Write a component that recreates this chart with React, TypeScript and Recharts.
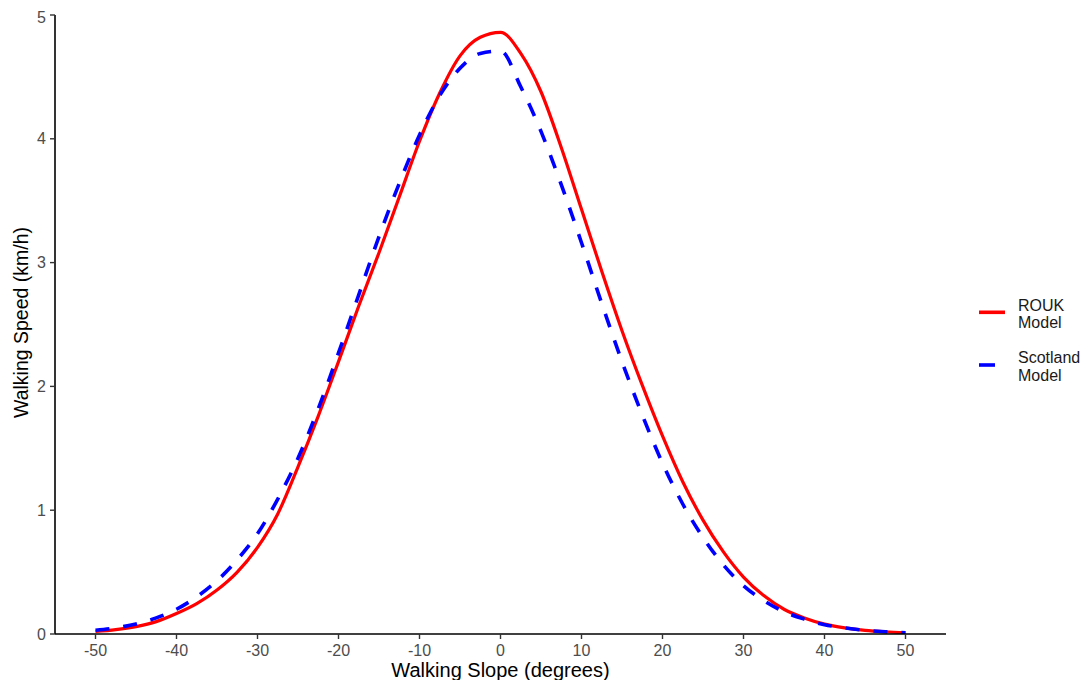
import React from 'react';
import { LineChart, Line, XAxis, YAxis } from 'recharts';

const slopes = [-50, -47.5, -45, -42.5, -40, -37.5, -35, -32.5, -30, -27.5, -25, -22.5, -20, -17.5, -15, -12.5, -10, -7.5, -5, -2.5, 0, 2.5, 5, 7.5, 10, 12.5, 15, 17.5, 20, 22.5, 25, 27.5, 30, 32.5, 35, 37.5, 40, 42.5, 45, 47.5, 50];

const roukSpeed = [0.02, 0.035, 0.06, 0.1, 0.165, 0.245, 0.355, 0.5, 0.7, 0.97, 1.35, 1.76, 2.2, 2.65, 3.08, 3.53, 3.98, 4.37, 4.67, 4.82, 4.86, 4.69, 4.38, 3.93, 3.43, 2.93, 2.45, 2.01, 1.6, 1.23, 0.92, 0.665, 0.46, 0.31, 0.2, 0.13, 0.08, 0.05, 0.03, 0.018, 0.01];

const scotlandSpeed = [0.03, 0.05, 0.08, 0.13, 0.2, 0.3, 0.43, 0.6, 0.81, 1.09, 1.42, 1.82, 2.27, 2.74, 3.21, 3.64, 4.03, 4.35, 4.57, 4.69, 4.71, 4.42, 4.06, 3.63, 3.16, 2.67, 2.2, 1.77, 1.38, 1.05, 0.78, 0.56, 0.39, 0.27, 0.18, 0.12, 0.075, 0.05, 0.03, 0.018, 0.01];

const xTicks = [-50, -40, -30, -20, -10, 0, 10, 20, 30, 40, 50];
const yTicks = [0, 1, 2, 3, 4, 5];

const seriesNames = ['ROUK', 'Scotland'];

const data = slopes.map((s, i) => ({ slope: s, rouk: roukSpeed[i], scotland: scotlandSpeed[i] }));

const FONT = '"Liberation Sans", Arial, Helvetica, sans-serif';

const XTitle = (props: any) => {
  const vb = props.viewBox || { x: 47, y: 626, width: 891, height: 46 };
  return (
    <text x={vb.x + vb.width / 2} y={vb.y + 43} textAnchor="middle" fontSize={20} fontFamily={FONT} fill="#000">
      Walking Slope (degrees)
    </text>
  );
};

const YTitle = (props: any) => {
  const vb = props.viewBox || { x: 7, y: 7, width: 40, height: 619 };
  const cx = vb.x + 13;
  const cy = vb.y + vb.height / 2 - 2;
  return (
    <text x={cx} y={cy} transform={`rotate(-90 ${cx} ${cy})`} textAnchor="middle" fontSize={19.5} fontFamily={FONT} fill="#000">
      Walking Speed (km/h)
    </text>
  );
};

export default function App() {
  return (
    <div style={{ position: 'relative', width: 1074, height: 672 }}>
      <style>{`.recharts-surface { overflow: visible; }`}</style>
      <LineChart
        width={1074}
        height={672}
        data={data}
        margin={{ top: 7, right: 136, bottom: 0, left: 7 }}
      >
        <XAxis
          type="number"
          dataKey="slope"
          domain={[-55, 55]}
          ticks={xTicks}
          allowDataOverflow
          height={46}
          stroke="#000"
          strokeWidth={1.6}
          tickSize={5}
          tickMargin={6}
          tickLine={{ stroke: '#333', strokeWidth: 1.4 }}
          tick={{ fill: '#4d4d4d', fontSize: 16, fontFamily: FONT }}
          label={{ content: XTitle }}
        />
        <YAxis
          type="number"
          domain={[0, 5]}
          ticks={yTicks}
          allowDataOverflow
          width={40}
          stroke="#000"
          strokeWidth={1.6}
          tickSize={5}
          tickMargin={4}
          tickLine={{ stroke: '#333', strokeWidth: 1.4 }}
          tick={{ fill: '#4d4d4d', fontSize: 16, fontFamily: FONT }}
          label={{ content: YTitle }}
        />
        <Line
          type="monotone"
          dataKey="rouk"
          name={seriesNames[0]}
          stroke="#FF0000"
          strokeWidth={3.2}
          dot={false}
          activeDot={false}
          isAnimationActive={false}
        />
        <Line
          type="monotone"
          dataKey="scotland"
          name={seriesNames[1]}
          stroke="#0000FF"
          strokeWidth={3.6}
          strokeDasharray="14 14"
          dot={false}
          activeDot={false}
          isAnimationActive={false}
        />
      </LineChart>
      <svg
        style={{ position: 'absolute', left: 966, top: 280 }}
        width={108}
        height={110}
      >
        <line x1={5} x2={31} y1={24.3} y2={24.3} stroke="#FF0000" strokeWidth={3.6} />
        <text x={44} y={23} fontSize={16} fontFamily={FONT} fill="#1a1a1a">{seriesNames[0]}</text>
        <text x={44} y={40.3} fontSize={16} fontFamily={FONT} fill="#1a1a1a">Model</text>
        <line x1={5} x2={21} y1={77} y2={77} stroke="#0000FF" strokeWidth={3.6} />
        <text x={44} y={75.3} fontSize={16} fontFamily={FONT} fill="#1a1a1a">{seriesNames[1]}</text>
        <text x={44} y={92.5} fontSize={16} fontFamily={FONT} fill="#1a1a1a">Model</text>
      </svg>
    </div>
  );
}
